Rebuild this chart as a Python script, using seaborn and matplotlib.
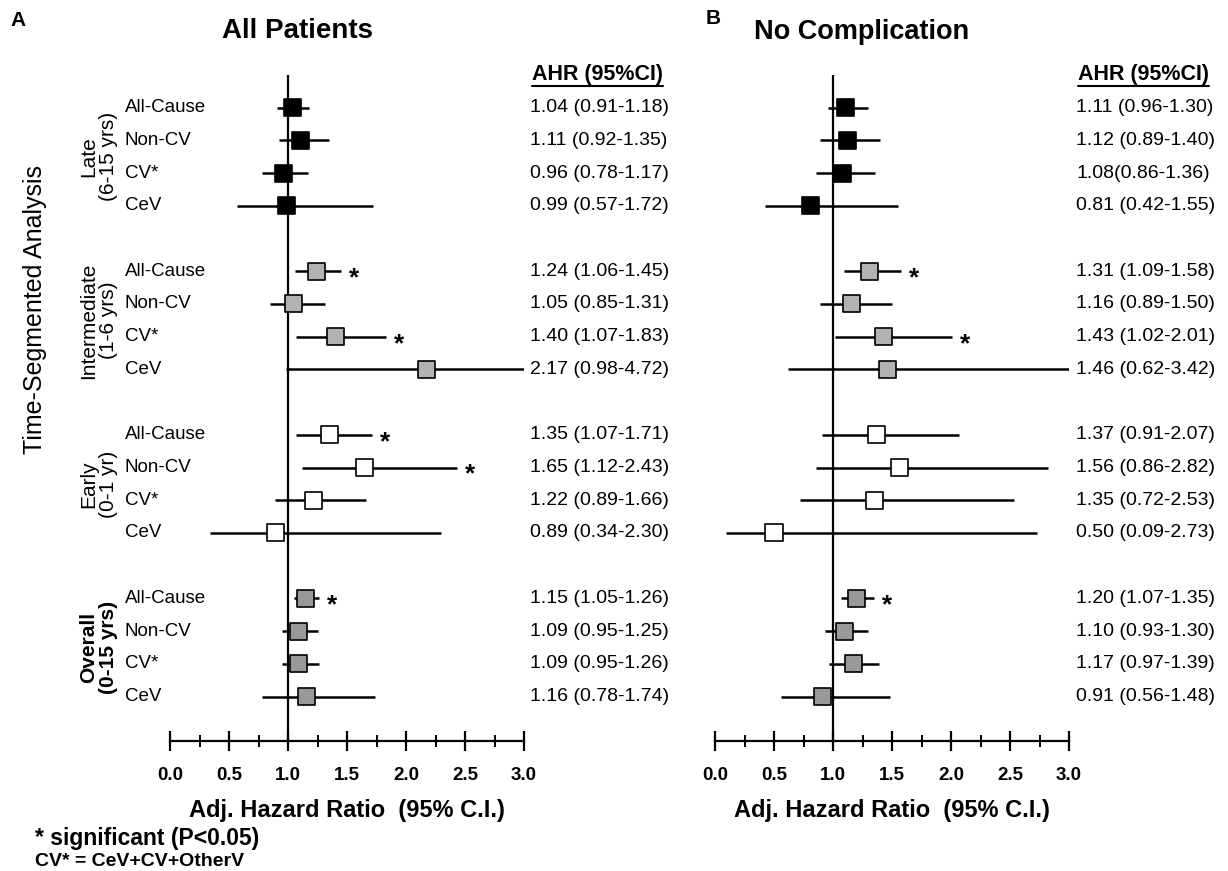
import matplotlib.pyplot as plt
import matplotlib.transforms as mtransforms
from matplotlib.lines import Line2D
import numpy as np
import pandas as pd
import seaborn as sns

sns.set_style('white')
plt.rcParams['font.family'] = ['Liberation Sans', 'DejaVu Sans']
plt.rcParams['text.color'] = 'black'
plt.rcParams['axes.labelcolor'] = 'black'
plt.rcParams['xtick.color'] = 'black'

groups = ['Late', 'Intermediate', 'Early', 'Overall']
group_labels = ['Late\n(6-15 yrs)', 'Intermediate\n(1-6 yrs)', 'Early\n(0-1 yr)', 'Overall\n(0-15 yrs)']
outcomes = ['All-Cause', 'Non-CV', 'CV*', 'CeV']
group_colors = {'Late': '#000000', 'Intermediate': '#b2b2b2', 'Early': '#ffffff', 'Overall': '#999999'}

# All patients
a_ahr = [1.04, 1.11, 0.96, 0.99, 1.24, 1.05, 1.40, 2.17, 1.35, 1.65, 1.22, 0.89, 1.15, 1.09, 1.09, 1.16]
a_lo = [0.91, 0.92, 0.78, 0.57, 1.06, 0.85, 1.07, 0.98, 1.07, 1.12, 0.89, 0.34, 1.05, 0.95, 0.95, 0.78]
a_hi = [1.18, 1.35, 1.17, 1.72, 1.45, 1.31, 1.83, 4.72, 1.71, 2.43, 1.66, 2.30, 1.26, 1.25, 1.26, 1.74]
a_sig = [0, 0, 0, 0, 1, 0, 1, 0, 1, 1, 0, 0, 1, 0, 0, 0]

# No complication
b_ahr = [1.11, 1.12, 1.08, 0.81, 1.31, 1.16, 1.43, 1.46, 1.37, 1.56, 1.35, 0.50, 1.20, 1.10, 1.17, 0.91]
b_lo = [0.96, 0.89, 0.86, 0.42, 1.09, 0.89, 1.02, 0.62, 0.91, 0.86, 0.72, 0.09, 1.07, 0.93, 0.97, 0.56]
b_hi = [1.30, 1.40, 1.36, 1.55, 1.58, 1.50, 2.01, 3.42, 2.07, 2.82, 2.53, 2.73, 1.35, 1.30, 1.39, 1.48]
b_sig = [0, 0, 0, 0, 1, 0, 1, 0, 0, 0, 0, 0, 1, 0, 0, 0]


def make_df(ahr, lo, hi, sig):
    df = pd.DataFrame({'group': np.repeat(groups, 4), 'outcome': outcomes * 4,
                       'ahr': ahr, 'lo': lo, 'hi': hi, 'sig': sig})
    df['row'] = [g * 5 + o for g in range(4) for o in range(4)]
    df['text'] = [f'{a:.2f} ({l:.2f}-{h:.2f})' for a, l, h in zip(ahr, lo, hi)]
    return df


dfa = make_df(a_ahr, a_lo, a_hi, a_sig)
dfb = make_df(b_ahr, b_lo, b_hi, b_sig)
dfb.loc[2, 'text'] = dfb.loc[2, 'text'].replace(' (', '(')

W, H = 1228, 871
fig = plt.figure(figsize=(W / 100, H / 100), dpi=100)
axA = fig.add_axes([170 / W, 1 - 741 / H, 354 / W, 666 / H])
axB = fig.add_axes([715 / W, 1 - 741 / H, 354 / W, 666 / H])

headers = []


def draw_panel(ax, df, text_x, header_x):
    ax.axvline(1.0, color='black', lw=1.6, zorder=1)
    ax.hlines(df['row'], df['lo'], df['hi'], color='black', lw=1.8, zorder=2)
    sns.scatterplot(data=df, x='ahr', y='row', hue='group', palette=group_colors, marker='s',
                    s=150, edgecolor='black', linewidth=1.2, legend=False, zorder=3, ax=ax)
    for _, r in df[df['sig'] == 1].iterrows():
        ax.text(min(r['hi'], 3.0) + 0.11, r['row'] + 0.22, '*', fontsize=19, fontweight='bold',
                ha='center', va='center')
    ax.set_xlim(0, 3)
    ax.set_ylim(19.36, -1)
    for s in ['left', 'top', 'right']:
        ax.spines[s].set_visible(False)
    ax.spines['bottom'].set_linewidth(1.6)
    ax.spines['bottom'].set_color('black')
    ax.set_xticks(np.arange(0, 3.01, 0.5))
    ax.set_xticks(np.arange(0.25, 3, 0.5), minor=True)
    ax.set_xticklabels([f'{v:.1f}' for v in np.arange(0, 3.01, 0.5)], fontweight='bold', fontsize=13.5)
    ax.tick_params(axis='x', which='major', direction='inout', length=15, width=1.6, pad=11, bottom=True)
    ax.tick_params(axis='x', which='minor', direction='inout', length=9, width=1.4, bottom=True)
    ax.set_yticks([])
    ax.set_ylabel('')
    ax.set_xlabel('Adj. Hazard Ratio  (95% C.I.)', fontsize=17, fontweight='bold', labelpad=11)
    tr = mtransforms.blended_transform_factory(fig.transFigure, ax.transData)
    for _, r in df.iterrows():
        ax.text(text_x / W, r['row'], r['text'], transform=tr, fontsize=14, ha='left', va='center')
    headers.append(ax.text(header_x / W, -1.0, 'AHR (95%CI)', transform=tr, fontsize=15.5,
                           fontweight='bold', ha='left', va='center'))


draw_panel(axA, dfa, 530, 532)
draw_panel(axB, dfb, 1076, 1078)

# row and group labels for the left panel
trA = mtransforms.blended_transform_factory(fig.transFigure, axA.transData)
for g in range(4):
    for o in range(4):
        axA.text(125 / W, g * 5 + o, outcomes[o], transform=trA, fontsize=13.5, ha='left', va='center')
    axA.text(99 / W, g * 5 + 1.5, group_labels[g], transform=trA, fontsize=15, rotation=90,
             ha='center', va='center', multialignment='center', linespacing=1.05,
             fontweight='bold' if groups[g] == 'Overall' else 'normal')

fig.text(35 / W, 1 - 310 / H, 'Time-Segmented Analysis', fontsize=18, rotation=90, ha='center', va='center')

fig.text(10 / W, 1 - 20 / H, 'A', fontsize=15, fontweight='bold', ha='left', va='center')
fig.text(297 / W, 1 - 31 / H, 'All Patients', fontsize=20, fontweight='bold', ha='center', va='center')
fig.text(706 / W, 1 - 19 / H, 'B', fontsize=15, fontweight='bold', ha='left', va='center')
fig.text(862 / W, 1 - 32 / H, 'No Complication', fontsize=19.5, fontweight='bold', ha='center', va='center')

fig.text(35 / W, 1 - 838 / H, '* significant (P<0.05)', fontsize=16.5, fontweight='bold', ha='left', va='center')
fig.text(35 / W, 1 - 861 / H, 'CV* = CeV+CV+OtherV', fontsize=14, fontweight='bold', ha='left', va='center')

# underline the column headers
fig.canvas.draw()
renderer = fig.canvas.get_renderer()
for t in headers:
    bb = t.get_window_extent(renderer)
    y = (bb.y0 - 1) / H
    fig.add_artist(Line2D([bb.x0 / W, bb.x1 / W], [y, y], color='black', lw=1.5))

fig.savefig('out.png', dpi=100)
